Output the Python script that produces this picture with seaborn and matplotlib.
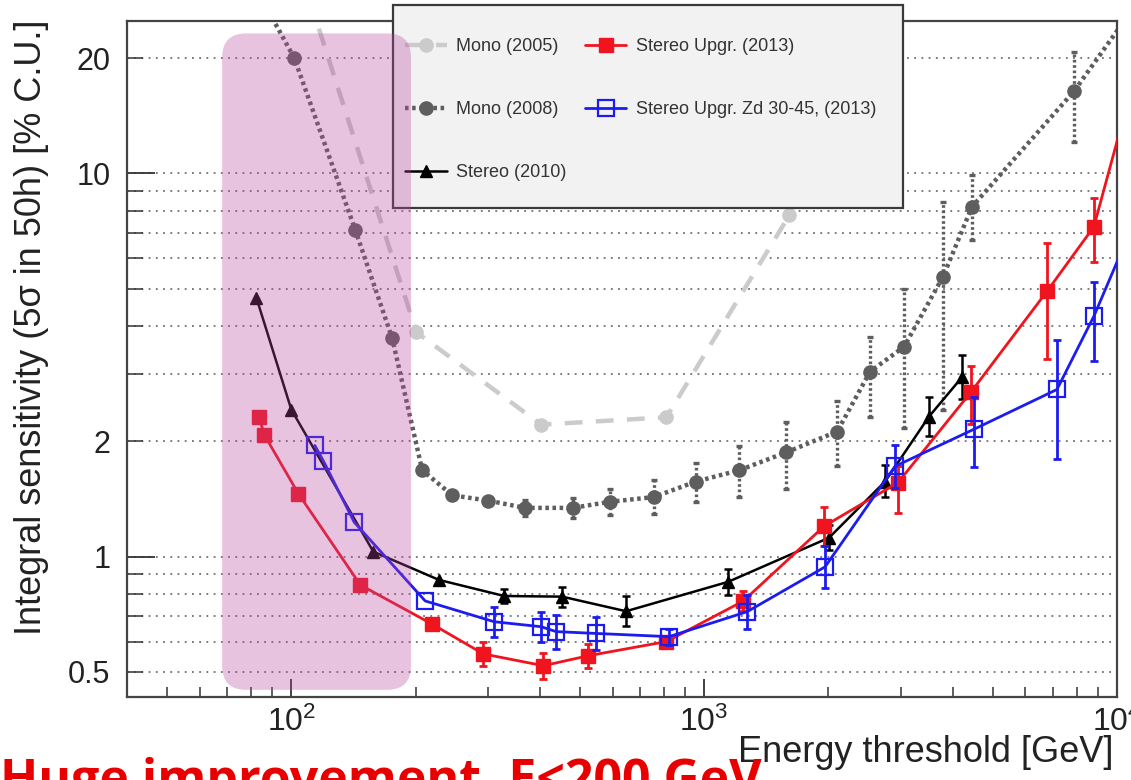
import numpy as np
import pandas as pd
import matplotlib
matplotlib.use("Agg")
import matplotlib.pyplot as plt
import seaborn as sns
from matplotlib.lines import Line2D
from matplotlib.patches import FancyBboxPatch, Rectangle
from matplotlib.ticker import FixedLocator, FixedFormatter, LogLocator, NullFormatter, FuncFormatter

# ---------------- data ----------------
# Mono (2005)
E05 = [100, 201, 403, 810, 1607, 1900]
S05 = [40, 3.85, 2.21, 2.31, 7.77, 13]

# Mono (2008)
E08 = [80, 101.7, 142.8, 175.6, 207.6, 245.6, 300, 368, 481, 591, 755, 956, 1216, 1579, 2100, 2523, 3050, 3790, 4453, 7870, 12000]
S08 = [32, 20, 7.13, 3.71, 1.68, 1.445, 1.40, 1.34, 1.34, 1.39, 1.43, 1.57, 1.68, 1.87, 2.12, 3.04, 3.53, 5.38, 8.18, 16.4, 31]
LO08 = [32, 20, 7.13, 3.71, 1.68, 1.445, 1.40, 1.277, 1.262, 1.286, 1.292, 1.39, 1.43, 1.50, 1.72, 2.32, 2.17, 2.42, 6.71, 12.1, 31]
HI08 = [32, 20, 7.13, 3.71, 1.68, 1.445, 1.40, 1.406, 1.423, 1.503, 1.583, 1.76, 1.94, 2.24, 2.54, 3.75, 4.98, 8.43, 9.9, 20.7, 31]

# Stereo (2010)
E10 = [82.3, 100, 158, 228, 328, 453, 647, 1143, 2007, 2743, 3505, 4214]
S10 = [4.74, 2.42, 1.03, 0.869, 0.789, 0.786, 0.72, 0.859, 1.12, 1.57, 2.32, 2.94]
LO10 = [4.74, 2.42, 1.03, 0.869, 0.757, 0.74, 0.658, 0.795, 1.04, 1.43, 2.06, 2.58]
HI10 = [4.74, 2.42, 1.03, 0.869, 0.823, 0.835, 0.788, 0.929, 1.21, 1.73, 2.61, 3.35]

# Stereo Upgr. (2013)
E13 = [83.6, 86, 104, 147, 219, 292, 408, 524, 810, 1243, 1952, 2948, 4431, 6763, 8790, 12000]
S13 = [2.31, 2.08, 1.46, 0.843, 0.667, 0.557, 0.519, 0.551, 0.60, 0.765, 1.20, 1.56, 2.69, 4.92, 7.26, 25]
LO13 = [2.31, 2.08, 1.46, 0.843, 0.645, 0.518, 0.48, 0.513, 0.579, 0.72, 1.065, 1.30, 2.22, 3.27, 5.89, 25]
HI13 = [2.31, 2.08, 1.46, 0.843, 0.69, 0.599, 0.561, 0.592, 0.622, 0.812, 1.35, 1.72, 3.14, 6.6, 8.64, 25]

# Stereo Upgr. Zd 30-45, (2013)
EZ = [114, 119.5, 142, 211, 310, 403, 438, 548, 822, 1271, 1963, 2899, 4505, 7155, 8790, 12000]
SZ = [1.95, 1.78, 1.23, 0.766, 0.676, 0.656, 0.637, 0.63, 0.618, 0.718, 0.94, 1.72, 2.15, 2.73, 4.24, 9.3]
LOZ = [1.95, 1.78, 1.23, 0.766, 0.618, 0.60, 0.575, 0.569, 0.589, 0.649, 0.829, 1.51, 1.71, 1.80, 3.24, 9.3]
HIZ = [1.95, 1.78, 1.23, 0.766, 0.74, 0.718, 0.705, 0.697, 0.648, 0.795, 1.066, 1.96, 2.61, 3.68, 5.2, 9.3]

LABELS = ["Mono (2005)", "Mono (2008)", "Stereo (2010)",
          "Stereo Upgr. (2013)", "Stereo Upgr. Zd 30-45, (2013)"]
XTICKS = [100, 1000, 10000]
XTICKLABELS = [r"$\mathregular{10^{2}}$", r"$\mathregular{10^{3}}$", r"$\mathregular{10^{4}}$"]
YMAJOR = [1, 10]
YLABELED = {0.5: "0.5", 1: "1", 2: "2", 10: "10", 20: "20"}
BAND_E = (68, 195)
BAND_S = (0.449, 23.2)

C05, C08, C10, C13, CZ = "#cbcbcb", "#5e5e5e", "#000000", "#f0141e", "#1c1cf0"

# ---------------- figure ----------------
sns.set_theme(style="ticks")
plt.rcParams["font.family"] = ["Liberation Sans", "DejaVu Sans"]

W, H = 1131, 780
fig = plt.figure(figsize=(W / 100, H / 100), dpi=100)
ax = fig.add_axes([127 / W, 1 - 697 / H, (1117 - 127) / W, (697 - 21) / H])
ax.set_xscale("log")
ax.set_yscale("log")
ax.set_xlim(40, 10000)
ax.set_ylim(0.43, 25)


def series(E, S, lo, hi, color, ls, lw, marker, ms, mfc, mew, z, elw=2.0, cap=3, bar_ls="-"):
    df = pd.DataFrame({"E": E, "S": S})
    sns.lineplot(data=df, x="E", y="S", ax=ax, estimator=None, sort=False, legend=False,
                 color=color, linestyle=ls, linewidth=lw, marker=marker, markersize=ms,
                 mfc=mfc, mec=color, mew=mew, zorder=z)
    if lo is not None:
        S_a, lo_a, hi_a = np.array(S), np.array(lo), np.array(hi)
        m = (hi_a - lo_a) > 0
        eb = ax.errorbar(np.array(E)[m], S_a[m], yerr=[S_a[m] - lo_a[m], hi_a[m] - S_a[m]],
                         fmt="none", ecolor=color, elinewidth=elw, capsize=cap, capthick=elw,
                         zorder=z)
        if bar_ls != "-":
            for bl in eb[2]:
                bl.set_linestyle(bar_ls)


ls05 = (0, (4, 3))
ls08 = (0, (0.8, 0.8))
series(E05, S05, None, None, C05, ls05, 3.2, "o", 9.5, C05, 1, 2)
series(E08, S08, LO08, HI08, C08, ls08, 3.2, "o", 9.5, C08, 1, 2.1, elw=2.4, cap=2.5, bar_ls=(0, (0.8, 0.8)))
series(E10, S10, LO10, HI10, C10, "-", 1.8, "^", 8, C10, 1, 3, elw=1.8, cap=3)
series(E13, S13, LO13, HI13, C13, "-", 2.0, "s", 10.5, C13, 1, 3.1, elw=2.0, cap=3)
series(EZ, SZ, LOZ, HIZ, CZ, "-", 2.0, "s", 11, "none", 1.6, 3.2, elw=2.0, cap=3)

# ---------------- axes style ----------------
ax.xaxis.set_major_locator(FixedLocator(XTICKS))
ax.xaxis.set_major_formatter(FixedFormatter(XTICKLABELS))
ax.xaxis.set_minor_locator(LogLocator(base=10, subs=np.arange(2, 10)))
ax.xaxis.set_minor_formatter(NullFormatter())
ax.yaxis.set_major_locator(FixedLocator(YMAJOR))
ax.yaxis.set_minor_locator(LogLocator(base=10, subs=np.arange(2, 10)))
fmt = FuncFormatter(lambda v, p: next((t for k, t in YLABELED.items() if abs(v - k) < 1e-6 * k), ""))
ax.yaxis.set_major_formatter(fmt)
ax.yaxis.set_minor_formatter(fmt)

ax.grid(True, which="both", axis="y", linestyle=(0, (1, 3)), color="#6f6f6f", linewidth=1.3)
ax.grid(False, axis="x", which="both")
ax.set_axisbelow(True)

ax.tick_params(axis="x", which="major", direction="in", length=13, width=1.3, bottom=True,
               top=False, labelsize=23, pad=7, colors="#333333", labelcolor="#222222")
ax.tick_params(axis="x", which="minor", direction="in", length=7, width=1.1, bottom=True, top=False,
               colors="#333333")
ax.tick_params(axis="y", which="major", direction="in", length=20, width=1.3, left=True,
               right=False, labelsize=22, pad=12, colors="#333333", labelcolor="#222222")
ax.tick_params(axis="y", which="minor", direction="in", length=11.5, width=1.1, left=True,
               right=False, labelsize=22, pad=12, colors="#333333", labelcolor="#222222")
for sp in ax.spines.values():
    sp.set_color("#444444")
    sp.set_linewidth(1.6)
ax.set_xlabel("")
ax.set_ylabel("")

fig.text(32 / W, 1 - 327 / H, "Integral sensitivity (5σ in 50h) [% C.U.]", rotation=90,
         ha="center", va="center", fontsize=26, color="#222222")
fig.text(1113 / W, 1 - 753 / H, "Energy threshold [GeV]", ha="right", va="center",
         fontsize=26, color="#222222")
fig.text(0.0, 1 - 795 / H, "Huge improvement, E<200 GeV", ha="left", va="baseline",
         fontsize=36, fontweight="bold", color="#e80000", family=["Open Sans", "DejaVu Sans"])

# ---------------- legend ----------------
box = Rectangle((393 / W, 1 - 208 / H), 510 / W, 203 / H, transform=fig.transFigure,
                facecolor="#f2f2f2", edgecolor="#3a3a3a", linewidth=1.6, zorder=4.5, clip_on=False)
ax.add_patch(box)
handles = [
    Line2D([], [], color=C05, ls=ls05, lw=3.2, marker="o", ms=9.5, mec=C05),
    Line2D([], [], color=C08, ls=ls08, lw=3.2, marker="o", ms=9.5, mec=C08),
    Line2D([], [], color=C10, ls="-", lw=1.8, marker="^", ms=8, mec=C10),
    Line2D([], [], color=C13, ls="-", lw=2.0, marker="s", ms=10.5, mec=C13),
    Line2D([], [], color=CZ, ls="-", lw=2.0, marker="s", ms=11, mfc="none", mec=CZ, mew=1.6),
]
leg = ax.legend(handles=handles, labels=LABELS, ncol=2, loc="upper left",
                bbox_to_anchor=(396 / W, 1 - 29 / H), bbox_transform=fig.transFigure,
                frameon=False, borderpad=0, fontsize=13, labelspacing=2.55, handlelength=2.3,
                handletextpad=0.55, columnspacing=1.0, labelcolor="#333333")
leg.set_zorder(5)

# ---------------- shaded band ----------------
fig.canvas.draw()
p0 = ax.transData.transform((BAND_E[0], BAND_S[0])) / fig.dpi
p1 = ax.transData.transform((BAND_E[1], BAND_S[1])) / fig.dpi
band = FancyBboxPatch((p0[0], p0[1]), p1[0] - p0[0], p1[1] - p0[1],
                      boxstyle="round,pad=0,rounding_size=0.24", transform=fig.dpi_scale_trans,
                      facecolor="#b8469f", alpha=0.32, edgecolor="none", zorder=6, clip_on=False)
ax.add_patch(band)

fig.savefig("out.png", dpi=100)
